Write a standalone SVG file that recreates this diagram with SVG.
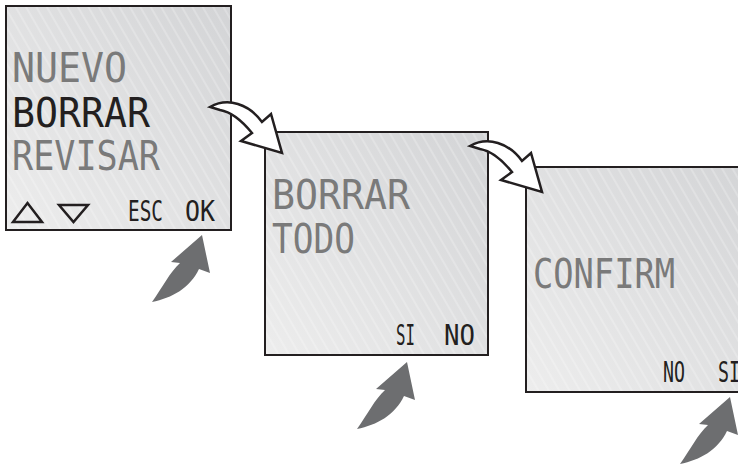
<svg xmlns="http://www.w3.org/2000/svg" width="738" height="466" viewBox="0 0 738 466">
<style>
.scr{stroke:#231f20;stroke-width:2}
.lcd{font-family:"DejaVu Sans Mono","Liberation Mono",monospace;font-size:40px}
.sm{font-family:"DejaVu Sans Mono","Liberation Mono",monospace;font-size:29px}
.g{fill:#7a7a7a}
.k{fill:#231f20}
.wa{fill:#ffffff;stroke:#231f20;stroke-width:2.5;stroke-linejoin:miter}
.ga{fill:#6d6e70}
.tri{fill:none;stroke:#231f20;stroke-width:2.5}
</style>
<defs>
<linearGradient id="bg" x1="1" y1="0" x2="0" y2="1">
<stop offset="0" stop-color="#d3d4d6"/>
<stop offset="1" stop-color="#ededed"/>
</linearGradient>
<pattern id="st" width="9" height="9" patternUnits="userSpaceOnUse" patternTransform="rotate(-30)">
<line x1="1" y1="0" x2="1" y2="9" stroke="#ffffff" stroke-opacity="0.55" stroke-width="0.8"/>
</pattern>
<path id="wArrow" d="M210,107 C228,97 249,104 262,122 L271,114 L282,153 L241,141 L252,133 C243,122 232,112 220,110 Z"/>
<path id="gArrow" d="M152,302 C162,288 170,272 180,263 L171,262 L202,235 L210,273 L199,269 C190,288 172,298 152,302 Z"/>
</defs>

<g id="screen1">
<rect x="6" y="6" width="225" height="224" fill="url(#bg)"/>
<rect x="6" y="6" width="225" height="224" fill="url(#st)" class="scr"/>
<text class="lcd g" x="12" y="82" textLength="115" lengthAdjust="spacingAndGlyphs">NUEVO</text>
<text class="lcd k" x="12" y="127" textLength="138" lengthAdjust="spacingAndGlyphs">BORRAR</text>
<text class="lcd g" x="12" y="170" textLength="148" lengthAdjust="spacingAndGlyphs">REVISAR</text>
<polygon class="tri" points="13,222 42,222 27.5,203"/>
<polygon class="tri" points="59,205 88,205 73.5,222"/>
<text class="sm k" x="128" y="221" textLength="35" lengthAdjust="spacingAndGlyphs">ESC</text>
<text class="sm k" x="185" y="221" textLength="30" lengthAdjust="spacingAndGlyphs">OK</text>
</g>

<g id="screen2">
<rect x="265" y="132" width="223" height="223" fill="url(#bg)"/>
<rect x="265" y="132" width="223" height="223" fill="url(#st)" class="scr"/>
<text class="lcd g" x="272" y="209" textLength="138" lengthAdjust="spacingAndGlyphs">BORRAR</text>
<text class="lcd g" x="272" y="253" textLength="83" lengthAdjust="spacingAndGlyphs">TODO</text>
<text class="sm k" x="396" y="345" textLength="19" lengthAdjust="spacingAndGlyphs">SI</text>
<text class="sm k" x="444" y="345" textLength="31" lengthAdjust="spacingAndGlyphs">NO</text>
</g>

<g id="screen3">
<rect x="526" y="167" width="230" height="225" fill="url(#bg)"/>
<rect x="526" y="167" width="230" height="225" fill="url(#st)" class="scr"/>
<text class="lcd g" x="533" y="288" textLength="142" lengthAdjust="spacingAndGlyphs">CONFIRM</text>
<text class="sm k" x="663" y="382" textLength="22" lengthAdjust="spacingAndGlyphs">NO</text>
<text class="sm k" x="718" y="382" textLength="22" lengthAdjust="spacingAndGlyphs">SI</text>
</g>

<g id="connectors">
<use href="#wArrow" class="wa"/>
<use href="#wArrow" class="wa" transform="translate(260,39)"/>
<use href="#gArrow" class="ga"/>
<use href="#gArrow" class="ga" transform="translate(205,127)"/>
<use href="#gArrow" class="ga" transform="translate(528,162)"/>
</g>
</svg>
